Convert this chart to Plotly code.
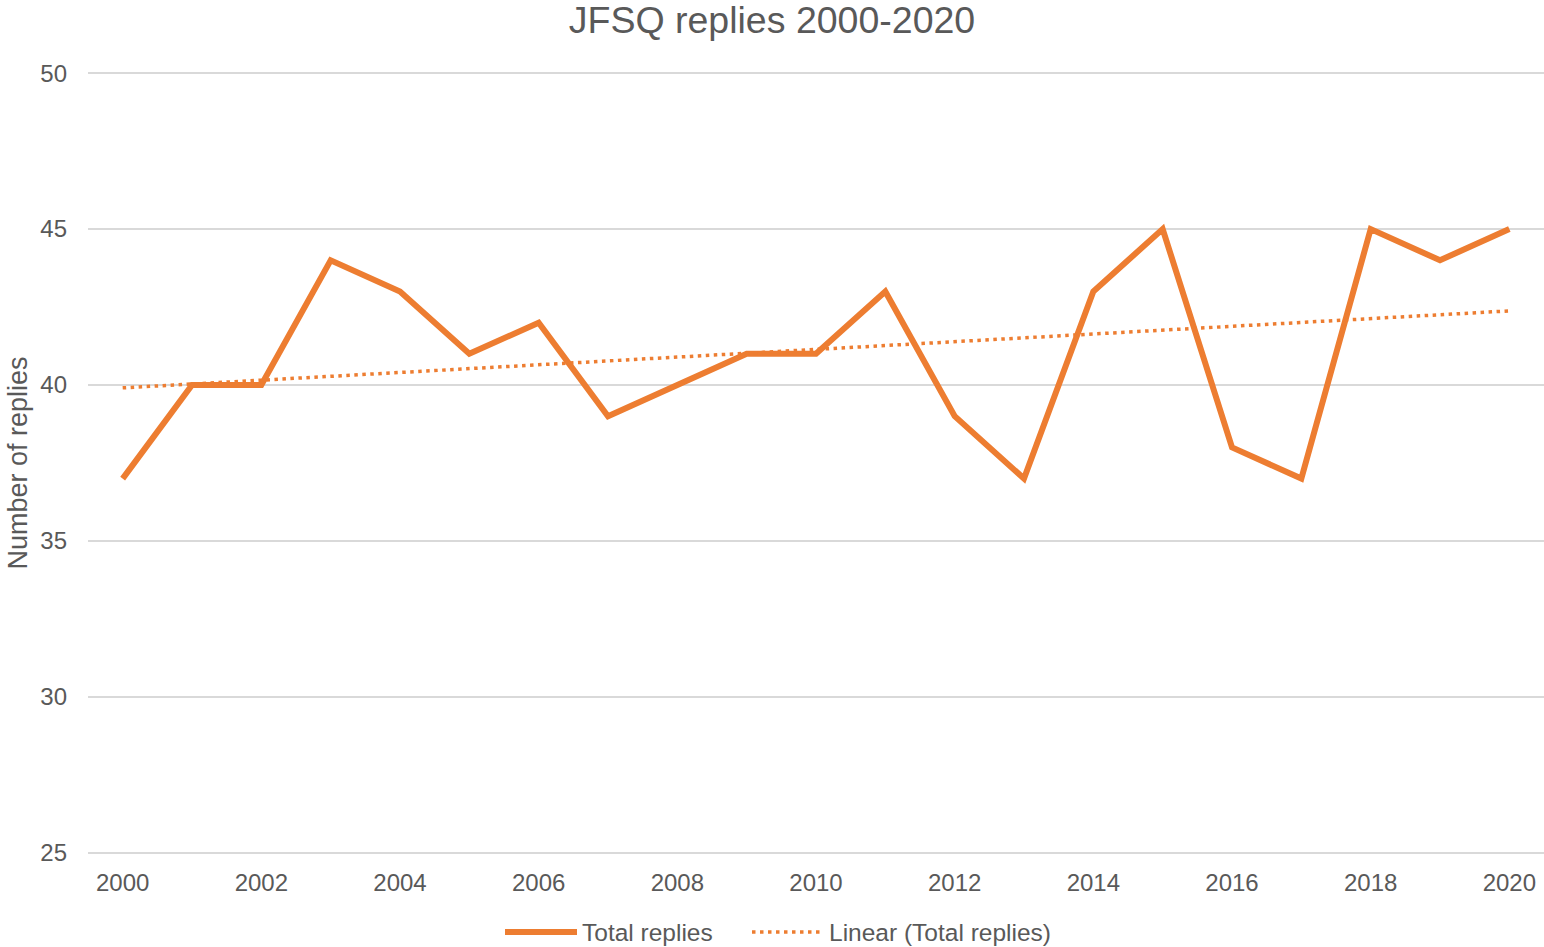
import numpy as np
import plotly.graph_objects as go

years = list(range(2000, 2021))
total_replies = [37, 40, 40, 44, 43, 41, 42, 39, 40, 41, 41, 43, 39, 37, 43, 45, 38, 37, 45, 44, 45]

y_ticks = [25, 30, 35, 40, 45, 50]
x_ticks = list(range(2000, 2021, 2))

ORANGE = "#ED7D31"
TEXT = "#595959"
GRID = "#D9D9D9"
FONT = "Liberation Sans, Arial, sans-serif"

# Linear trendline (least squares fit, as Excel's "Linear" trendline)
slope, intercept = np.polyfit(years, total_replies, 1)
trend = [slope * x + intercept for x in years]

fig = go.Figure()
fig.add_trace(go.Scatter(
    x=years, y=total_replies, mode="lines", name="Total replies",
    line=dict(color=ORANGE, width=6), legend="legend",
))
fig.add_trace(go.Scatter(
    x=years, y=trend, mode="lines", name="Linear (Total replies)",
    line=dict(color=ORANGE, width=3.5, dash="3.5px,4.5px"), legend="legend2",
))

legend_common = dict(orientation="h", xanchor="left", y=-0.0967, yanchor="middle",
                     font=dict(size=24.5, color=TEXT), itemwidth=72,
                     bgcolor="rgba(0,0,0,0)")

fig.update_layout(
    width=1544, height=947,
    paper_bgcolor="white", plot_bgcolor="white",
    margin=dict(l=88, r=0, t=70, b=91, autoexpand=False),
    font=dict(family=FONT, color=TEXT, size=24),
    title=dict(text="JFSQ replies 2000-2020", x=0.5, xanchor="center",
               y=1 - 20 / 947, yanchor="middle", yref="container",
               font=dict(size=37.5, color=TEXT, family=FONT)),
    showlegend=True,
    legend=dict(x=(500 - 88) / 1456, **legend_common),
    legend2=dict(x=(747 - 88) / 1456, **legend_common),
    xaxis=dict(range=[1999.5, 2020.5], tickvals=x_ticks, ticktext=[str(v) for v in x_ticks],
               showgrid=False, zeroline=False, showline=False, ticks="",
               ticklabelstandoff=10, tickfont=dict(size=24, color=TEXT)),
    yaxis=dict(range=[24.9, 50.1], tickvals=y_ticks, showgrid=True, gridcolor=GRID, gridwidth=2,
               zeroline=False, showline=False, ticks="", ticklabelstandoff=20,
               tickfont=dict(size=24, color=TEXT),
               title=dict(text="Number of replies", standoff=4,
                          font=dict(size=27, color=TEXT))),
)

fig.write_html("out.html", config={"displayModeBar": False},
               post_script="document.body.style.margin='0';")
